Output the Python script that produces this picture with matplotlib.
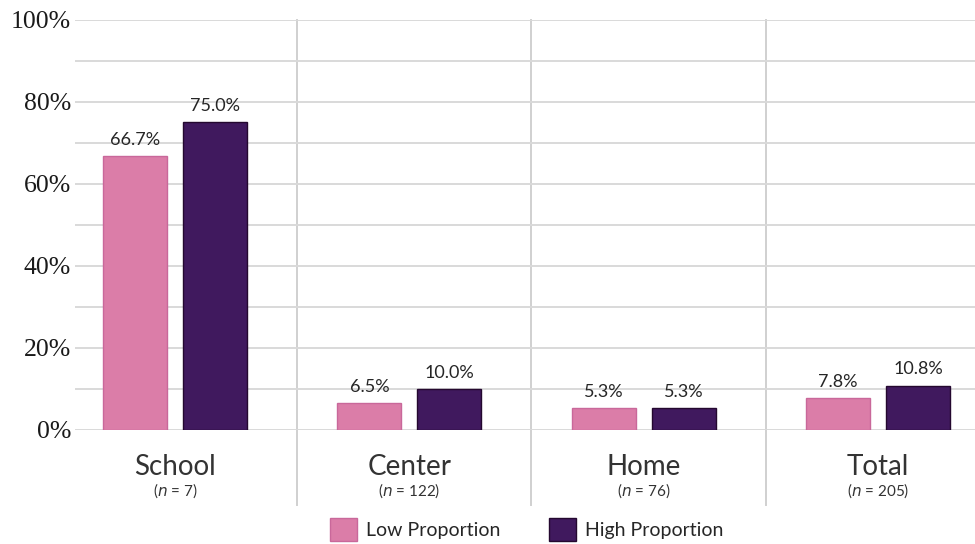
import matplotlib
matplotlib.use("Agg")

import matplotlib.pyplot as plt
import matplotlib.ticker as ticker
import numpy as np

categorias = ["School", "Center", "Home", "Total"]
n_labels = ["7", "122", "76", "205"]
low_prop = [66.7, 6.5, 5.3, 7.8]
high_prop = [75.0, 10.0, 5.3, 10.8]
series_names = ["Low Proportion", "High Proportion"]

cor_low = "#DB7DA8"
cor_high = "#40195E"

fig = plt.figure(figsize=(9.75, 5.44), dpi=100)
ax = fig.add_axes([0.077, 0.2096, 0.923, 0.7537])

x = np.arange(len(categorias))
largura = 0.273
desloc = 0.171

bars_low = ax.bar(x - desloc, low_prop, largura, color=cor_low,
                  edgecolor="#C9689A", linewidth=1, label=series_names[0], zorder=3)
bars_high = ax.bar(x + desloc, high_prop, largura, color=cor_high,
                   edgecolor="#24082F", linewidth=1, label=series_names[1], zorder=3)

ax.set_xlim(-0.427, 3.414)
ax.set_ylim(0, 100)

ax.yaxis.set_major_locator(ticker.MultipleLocator(20))
ax.yaxis.set_minor_locator(ticker.MultipleLocator(10))
ax.yaxis.set_major_formatter(ticker.FuncFormatter(lambda v, pos: f"{v:.0f}%"))
ax.tick_params(axis="y", which="both", length=0, pad=3)
ax.tick_params(axis="x", length=0)
ax.set_xticks([])
for lab in ax.get_yticklabels():
    lab.set_fontfamily("Liberation Serif")
    lab.set_fontsize(18.5)
    lab.set_color("#1a1a1a")

ax.grid(axis="y", which="both", color="#D9D9D9", linewidth=1.4, zorder=0)
for s in ax.spines.values():
    s.set_visible(False)

# separadores verticais entre categorias
for sep in x[:-1] + 0.52:
    ax.axvline(sep, ymin=-0.183, ymax=1.0, color="#D0D0D0", linewidth=1.4,
               clip_on=False, zorder=1)

# rótulos de valor
for bars in (bars_low, bars_high):
    for bar in bars:
        altura = bar.get_height()
        ax.annotate(f"{altura:.1f}%",
                    (bar.get_x() + bar.get_width() / 2, altura),
                    xytext=(0, 6), textcoords="offset points",
                    ha="center", va="bottom", fontsize=13,
                    family="Lato", color="#262626")

# nomes das categorias e n
for xi, nome, n in zip(x, categorias, n_labels):
    ax.text(xi, -9.0, nome, ha="center", va="center", fontsize=20,
            family="Lato", color="#333333", clip_on=False)
    ax.text(xi, -14.8, rf"($\it{{n}}$ = {n})", ha="center", va="center",
            fontsize=11, family="Lato", color="#333333", clip_on=False)

leg = fig.legend(handles=[bars_low, bars_high], labels=series_names,
                 loc="lower center", bbox_to_anchor=(0.54, -0.026), ncol=2,
                 frameon=False, handlelength=1.4, handleheight=1.4,
                 handletextpad=0.45, columnspacing=2.5,
                 prop={"family": "Lato", "size": 14})
for t in leg.get_texts():
    t.set_color("#262626")

fig.savefig("out.png", dpi=100)
